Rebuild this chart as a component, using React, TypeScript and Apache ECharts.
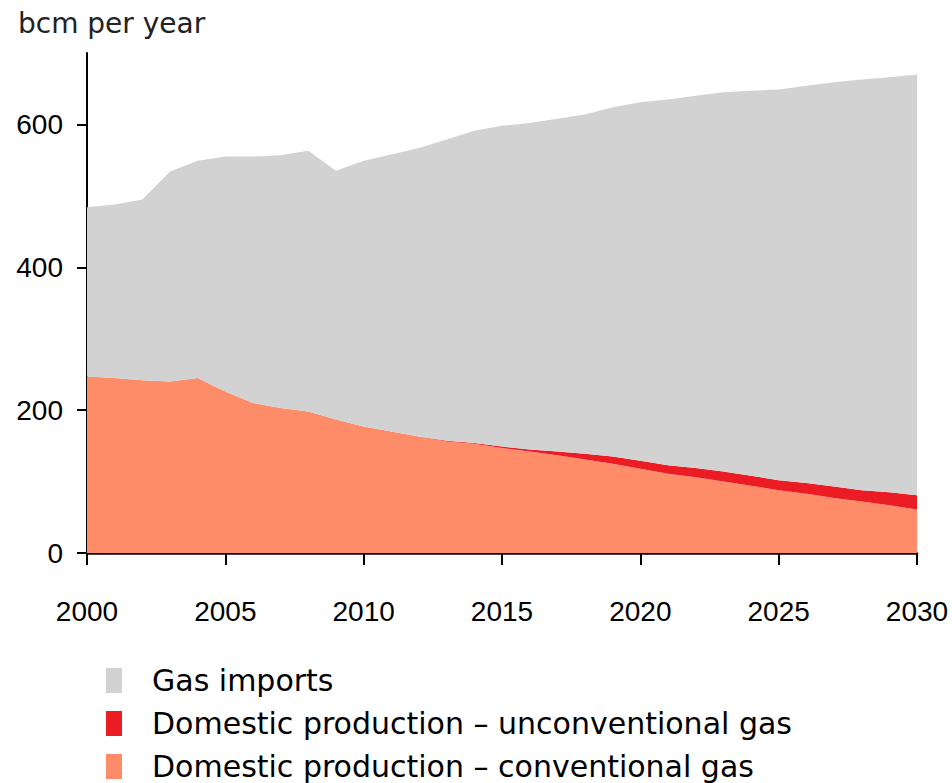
import React, { useEffect, useRef } from "react";
import * as echarts from "echarts";

const years = [
  2000, 2001, 2002, 2003, 2004, 2005, 2006, 2007, 2008, 2009, 2010,
  2011, 2012, 2013, 2014, 2015, 2016, 2017, 2018, 2019, 2020,
  2021, 2022, 2023, 2024, 2025, 2026, 2027, 2028, 2029, 2030,
];

// Domestic production – conventional gas (bcm)
const conventional = [
  247, 245, 242, 240, 245, 226, 210, 203, 198, 187, 177,
  170, 163, 156, 153, 147, 142, 137, 131, 125, 118,
  111, 106, 100, 94, 88, 83, 77, 72, 67, 61,
];

// Domestic production – unconventional gas (bcm)
const unconventional = [
  0, 0, 0, 0, 0, 0, 0, 0, 0, 0, 0,
  0, 0, 1, 1, 2, 3, 5, 8, 10, 11,
  12, 13, 14, 14, 14, 15, 16, 16, 18, 20,
];

// Total demand (top of the stack)
const total = [
  484, 488, 495, 534, 549, 555, 555, 557, 563, 535, 549,
  558, 567, 579, 591, 598, 602, 608, 614, 624, 631,
  635, 640, 645, 647, 649, 654, 659, 663, 666, 670,
];

const imports = total.map((t, i) => t - conventional[i] - unconventional[i]);

const yTicks = [0, 200, 400, 600];
const seriesNames = [
  "Gas imports",
  "Domestic production \u2013 unconventional gas",
  "Domestic production \u2013 conventional gas",
];
const colors = {
  imports: "#d2d2d2",
  unconv: "#ec1c24",
  conv: "#ff8c69",
};

export default function App() {
  const ref = useRef<HTMLDivElement>(null);

  useEffect(() => {
    document.body.style.margin = "0";
    if (!ref.current) return;
    const chart = echarts.init(ref.current, undefined, { renderer: "svg" });

    const mk = (name: string, vals: number[], color: string) => ({
      name,
      type: "line",
      stack: "total",
      symbol: "none",
      lineStyle: { width: 0 },
      itemStyle: { color },
      areaStyle: { color, opacity: 1 },
      data: vals,
    });

    const axisFont = "'Liberation Sans', sans-serif";

    chart.setOption({
      animation: false,
      backgroundColor: "#ffffff",
      title: {
        text: "bcm per year",
        left: 13,
        top: 4,
        textStyle: {
          fontFamily: "'DejaVu Sans', sans-serif",
          fontSize: 28,
          fontWeight: "normal",
          color: "#222",
        },
      },
      grid: { left: 87, right: 35, top: 53, bottom: 230, containLabel: false },
      xAxis: {
        type: "category",
        data: years.map(String),
        boundaryGap: false,
        axisLine: { show: true, lineStyle: { color: "#000", width: 2.5 } },
        axisTick: {
          show: true,
          length: 12,
          interval: 4,
          lineStyle: { color: "#000", width: 2 },
        },
        splitLine: { show: false },
        axisLabel: {
          interval: 4,
          margin: 44,
          fontSize: 28,
          fontFamily: axisFont,
          color: "#000",
        },
      },
      yAxis: {
        type: "value",
        min: 0,
        max: 700,
        interval: 100,
        axisLine: { show: true, lineStyle: { color: "#000", width: 2 } },
        axisTick: {
          show: true,
          length: 10,
          customValues: yTicks,
          lineStyle: { color: "#000", width: 2 },
        },
        splitLine: { show: false },
        axisLabel: {
          margin: 24,
          fontSize: 28,
          fontFamily: axisFont,
          color: "#000",
          customValues: yTicks,
          formatter: (v: number) => String(v),
        },
      },
      legend: {
        orient: "vertical",
        left: 101,
        top: 660,
        height: 160,
        itemWidth: 16,
        itemHeight: 25,
        itemGap: 12,
        icon: "rect",
        data: seriesNames,
        textStyle: {
          fontFamily: "'DejaVu Sans', sans-serif",
          fontSize: 30,
          lineHeight: 31,
          color: "#000",
          padding: [0, 0, 0, 25],
        },
      },
      series: [
        mk(seriesNames[2], conventional, colors.conv),
        mk(seriesNames[1], unconventional, colors.unconv),
        mk(seriesNames[0], imports, colors.imports),
      ],
    });

    return () => chart.dispose();
  }, []);

  return <div ref={ref} style={{ width: 952, height: 783 }} />;
}
